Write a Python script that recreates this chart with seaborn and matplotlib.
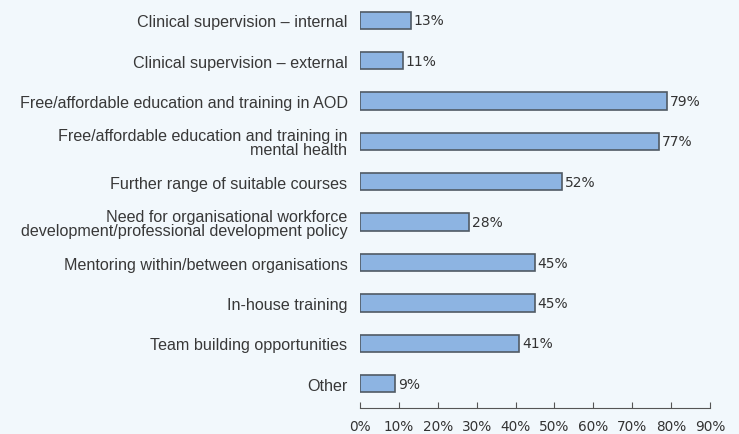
import matplotlib
matplotlib.use("Agg")
import matplotlib.pyplot as plt
import seaborn as sns
import pandas as pd

categories = [
    "Clinical supervision \u2013 internal",
    "Clinical supervision \u2013 external",
    "Free/affordable education and training in AOD",
    "Free/affordable education and training in\nmental health",
    "Further range of suitable courses",
    "Need for organisational workforce\ndevelopment/professional development policy",
    "Mentoring within/between organisations",
    "In-house training",
    "Team building opportunities",
    "Other",
]
values = [13, 11, 79, 77, 52, 28, 45, 45, 41, 9]
tick_values = [0, 10, 20, 30, 40, 50, 60, 70, 80, 90]
tick_labels = [f"{v}%" for v in tick_values]

df = pd.DataFrame({"cat": categories, "val": values})

sns.set_theme(style="white")
bg = "#f2f8fc"
fig = plt.figure(figsize=(7.39, 4.35), dpi=100, facecolor=bg)
ax = fig.add_axes([360/739, 1 - 409/435, 350/739, 408/435])
ax.set_facecolor(bg)

sns.barplot(data=df, x="val", y="cat", orient="h", color="#8db4e2",
            edgecolor="#505a64", linewidth=1.2, width=0.43, saturation=1, ax=ax)

ax.set_xlim(0, 90)
ax.set_ylim(9.6, -0.5)
ax.set_xlabel("")
ax.set_ylabel("")

for i, v in enumerate(values):
    ax.text(v + 0.7, i, f"{v}%", va="center", ha="left", fontsize=10,
            color="#333333", family="DejaVu Sans")

ax.set_xticks(tick_values)
ax.set_xticklabels(tick_labels, fontsize=9.8, color="#333333", family="DejaVu Sans")
ax.set_yticks(range(len(categories)))
ax.set_yticklabels(categories, fontsize=11.6, color="#383838", family="Liberation Sans",
                   linespacing=0.95)
ax.tick_params(axis="x", direction="in", length=4, width=0.8, color="#555555", pad=8,
               bottom=True)
ax.tick_params(axis="y", length=0, pad=9)

for s in ["top", "right", "left"]:
    ax.spines[s].set_visible(False)
ax.spines["bottom"].set_color("#555555")
ax.spines["bottom"].set_linewidth(0.8)

fig.savefig("out.png", dpi=100, facecolor=bg)
